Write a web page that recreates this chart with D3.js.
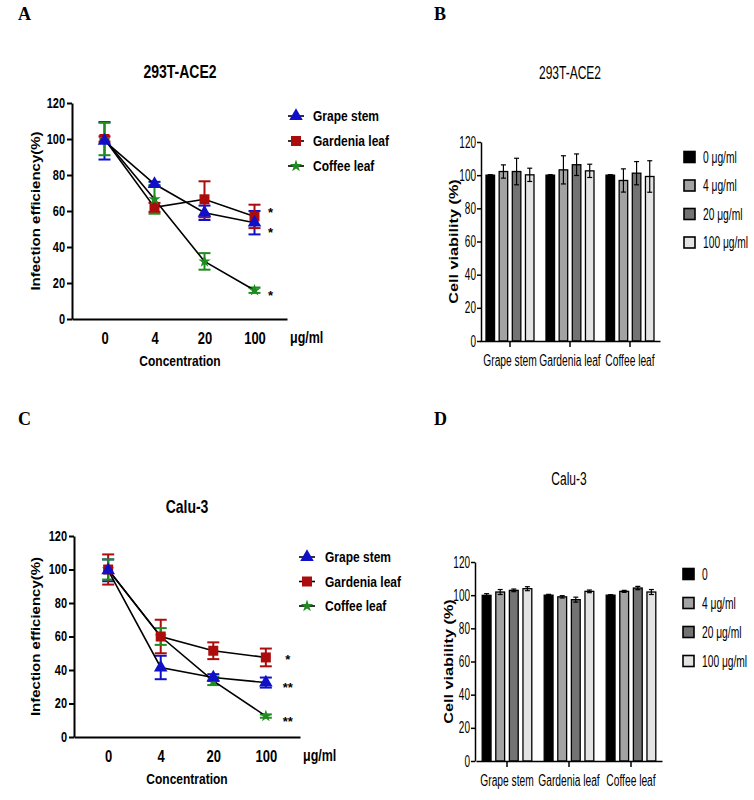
<!DOCTYPE html>
<html>
<head>
<meta charset="utf-8">
<script src="https://cdn.jsdelivr.net/npm/d3@7"></script>
<style>
body { margin: 0; background: #fff; }
svg { display: block; }
</style>
</head>
<body>
<svg id="fig" width="754" height="800"></svg>
<script>
// ---- data ----
const concentrations = ["0", "4", "20", "100"];
const extracts = ["Grape stem", "Gardenia leaf", "Coffee leaf"];
const yTicks = [0, 20, 40, 60, 80, 100, 120];

// A: 293T-ACE2, infection efficiency (%)
const aGrape = [99, 75, 59, 53.5];
const aGrapeErr = [10.4, 1.2, 4, 6.5];
const aGardenia = [100, 62, 66.5, 57];
const aGardeniaErr = [1.5, 2.5, 10, 6.5];
const aCoffee = [100, 66.5, 32, 16];
const aCoffeeErr = [9, 8, 4.6, 1.5];
const aStars = ["*", "*", "*"];
const aStarValues = [60.5, 49.5, 14.5];

// C: Calu-3, infection efficiency (%)
const cGrape = [99.5, 41.5, 35.5, 32.5];
const cGrapeErr = [6.5, 7, 2, 3];
const cGardenia = [100, 60, 51.5, 47.5];
const cGardeniaErr = [9, 10, 5, 5.3];
const cCoffee = [100, 60, 33.5, 12.5];
const cCoffeeErr = [6, 5, 2.5, 1];
const cStars = ["*", "**", "**"];
const cStarValues = [48, 31, 11];

// B: 293T-ACE2, cell viability (%), rows = extracts, columns = concentrations
const bViability = [
  [100, 102.2, 102.2, 100.2],
  [100, 103.2, 106.3, 102.6],
  [100, 96.8, 101.2, 99.2]
];
const bViabilityErr = [
  [0.3, 4, 8, 4],
  [0.3, 8.5, 6.5, 4],
  [0.3, 7, 7, 9.5]
];
const bLegend = ["0 \u03bcg/ml", "4 \u03bcg/ml", "20 \u03bcg/ml", "100 \u03bcg/ml"];

// D: Calu-3, cell viability (%)
const dViability = [
  [99.9, 101.9, 102.9, 103.9],
  [100, 99, 97.3, 102.3],
  [100, 102.3, 104.3, 101.9]
];
const dViabilityErr = [
  [1, 1.5, 0.8, 1.2],
  [0.5, 0.7, 1.5, 0.8],
  [0.3, 0.6, 1, 1.5]
];
const dLegend = ["0", "4 \u03bcg/ml", "20 \u03bcg/ml", "100 \u03bcg/ml"];

// ---- styles ----
const ARIAL = "'Liberation Sans', Arial, sans-serif";
const SERIF = "'Liberation Serif', 'Times New Roman', serif";
const barFills = ["#000000", "#a3a3a3", "#737373", "#e3e3e3"];
const S = 1.25;     // the source figure is stretched vertically, text included
const NARROW = 0.8; // horizontal squeeze for the narrow font of the bar panels

const svg = d3.select("#fig");

// turn x/y into a translate + stretch
function tall(sel, sx) {
  sx = sx || 1;
  sel.each(function () {
    const t = d3.select(this);
    const tx = +t.attr("x") || 0, ty = +t.attr("y") || 0;
    t.attr("x", null).attr("y", null)
      .attr("transform", "translate(" + tx + "," + ty + ") scale(" + sx + "," + S + ")");
  });
}

function label(g, x, y, str, size, opts) {
  opts = opts || {};
  const t = g.append("text")
    .attr("x", x).attr("y", y)
    .attr("font-family", ARIAL)
    .attr("font-size", size)
    .attr("font-weight", opts.weight || "bold")
    .attr("text-anchor", opts.anchor || "start")
    .text(str);
  if (opts.dy) t.attr("dy", opts.dy);
  tall(t, opts.sx);
  return t;
}

function yLabel(g, x, y, str, size) {
  g.append("text")
    .attr("transform", "translate(" + x + "," + y + ") scale(1," + S + ") rotate(-90)")
    .attr("text-anchor", "middle")
    .attr("font-family", ARIAL)
    .attr("font-weight", "bold")
    .attr("font-size", size)
    .text(str);
}

function styleAxis(ax, width, size, weight, sx) {
  ax.attr("font-size", null).attr("font-family", null);
  ax.select(".domain").attr("stroke-width", width);
  ax.selectAll(".tick line").attr("stroke-width", width);
  ax.selectAll("text")
    .attr("font-family", ARIAL)
    .attr("font-size", size)
    .attr("font-weight", weight)
    .attr("fill", "#000");
  tall(ax.selectAll("text"), sx);
}

function panelLetter(x, y, str) {
  svg.append("text")
    .attr("x", x).attr("y", y)
    .attr("font-family", SERIF)
    .attr("font-weight", "bold")
    .attr("font-size", 18)
    .text(str);
}

/**
 * Line chart with error bars (panels A and C)
 */
function drawLinePanel(cfg) {
  const g = svg.append("g");
  const x = d3.scalePoint().domain(concentrations).range([cfg.left, cfg.right]).padding(0.65);
  const y = d3.scaleLinear().domain([0, 120]).range([cfg.bottom, cfg.top]);

  const yAxis = g.append("g")
    .attr("transform", "translate(" + cfg.left + ",0)")
    .call(d3.axisLeft(y).tickValues(yTicks).tickSize(5).tickPadding(2).tickSizeOuter(0));
  styleAxis(yAxis, 2, 11, "bold");

  const xAxis = g.append("g")
    .attr("transform", "translate(0," + cfg.bottom + ")")
    .call(d3.axisBottom(x).tickSize(0).tickPadding(13).tickSizeOuter(0));
  styleAxis(xAxis, 2, 13, "bold");

  label(g, cfg.right + 3, cfg.bottom + 23.5, "\u03bcg/ml", 12.5);
  label(g, cfg.titleX, cfg.bottom + 47, "Concentration", 12, { anchor: "middle" });
  label(g, cfg.titleX, cfg.titleY, cfg.title, 14, { anchor: "middle" });
  yLabel(g, cfg.ylabelX, (cfg.top + cfg.bottom) / 2, "Infection efficiency(%)", 12);
  panelLetter(cfg.letterX, cfg.letterY, cfg.letter);

  const line = d3.line()
    .x((d, i) => x(concentrations[i]))
    .y(d => y(d));

  // error bars
  cfg.series.forEach(s => {
    const eb = g.append("g").attr("stroke", s.color).attr("stroke-width", 2);
    s.values.forEach((v, i) => {
      const cx = x(concentrations[i]);
      const lo = y(v - s.err[i]), hi = y(v + s.err[i]);
      eb.append("line").attr("x1", cx).attr("x2", cx).attr("y1", lo).attr("y2", hi);
      eb.append("line").attr("x1", cx - 6).attr("x2", cx + 6).attr("y1", lo).attr("y2", lo);
      eb.append("line").attr("x1", cx - 6).attr("x2", cx + 6).attr("y1", hi).attr("y2", hi);
    });
  });

  cfg.series.forEach(s => {
    g.append("path")
      .datum(s.values)
      .attr("fill", "none")
      .attr("stroke", "#000")
      .attr("stroke-width", 1.6)
      .attr("d", line);
  });

  cfg.drawOrder.forEach(k => {
    const s = cfg.series[k];
    g.append("g").selectAll("path")
      .data(s.values)
      .join("path")
      .attr("transform", (d, i) => "translate(" + x(concentrations[i]) + "," + y(d) + ")")
      .attr("d", d3.symbol().type(s.symbol).size(s.size))
      .attr("fill", s.color);
  });

  // significance marks
  g.append("g").selectAll("text")
    .data(cfg.stars)
    .join("text")
    .attr("x", x("100") + cfg.starOffset)
    .attr("y", (d, i) => y(cfg.starValues[i]))
    .attr("dy", "0.55em")
    .attr("text-anchor", "middle")
    .attr("font-family", ARIAL)
    .attr("font-weight", "bold")
    .attr("font-size", 13)
    .text(d => d);

  // legend
  const lg = g.append("g");
  cfg.series.forEach((s, i) => {
    const ly = cfg.legendY + i * cfg.legendGap;
    lg.append("line")
      .attr("x1", cfg.legendX - 8).attr("x2", cfg.legendX + 8)
      .attr("y1", ly).attr("y2", ly)
      .attr("stroke", "#000").attr("stroke-width", 1.6);
    lg.append("path")
      .attr("transform", "translate(" + cfg.legendX + "," + ly + ")")
      .attr("d", d3.symbol().type(s.symbol).size(s.size))
      .attr("fill", s.color);
    label(lg, cfg.textX, ly, s.name, 12, { dy: "0.36em" });
  });
}

/**
 * Grouped bar chart with error bars (panels B and D)
 */
function drawBarPanel(cfg) {
  const g = svg.append("g");
  const x0 = d3.scaleBand().domain(extracts).range(cfg.range).paddingInner(0.2).paddingOuter(0.1);
  const x1 = d3.scaleBand().domain(concentrations).range([0, x0.bandwidth()]).paddingInner(0.35);
  const y = d3.scaleLinear().domain([0, 120]).range([cfg.bottom, cfg.top]);

  extracts.forEach((ext, r) => {
    const grp = g.append("g").attr("transform", "translate(" + x0(ext) + ",0)");
    grp.selectAll("rect")
      .data(cfg.values[r])
      .join("rect")
      .attr("x", (d, i) => x1(concentrations[i]))
      .attr("y", d => y(d))
      .attr("width", x1.bandwidth())
      .attr("height", d => y(0) - y(d))
      .attr("fill", (d, i) => barFills[i])
      .attr("stroke", "#000")
      .attr("stroke-width", 1.3);
    const eb = grp.append("g").attr("stroke", "#000").attr("stroke-width", 1.2);
    cfg.values[r].forEach((v, i) => {
      const cx = x1(concentrations[i]) + x1.bandwidth() / 2;
      const e = cfg.err[r][i];
      const lo = y(v - e), hi = y(v + e);
      eb.append("line").attr("x1", cx).attr("x2", cx).attr("y1", lo).attr("y2", hi);
      eb.append("line").attr("x1", cx - 2.5).attr("x2", cx + 2.5).attr("y1", lo).attr("y2", lo);
      eb.append("line").attr("x1", cx - 2.5).attr("x2", cx + 2.5).attr("y1", hi).attr("y2", hi);
    });
  });

  const yAxis = g.append("g")
    .attr("transform", "translate(" + cfg.left + ",0)")
    .call(d3.axisLeft(y).tickValues(yTicks).tickSize(4).tickPadding(1).tickSizeOuter(0));
  styleAxis(yAxis, 1.5, 12.5, "normal", NARROW);

  const xAxis = g.append("g")
    .attr("transform", "translate(0," + cfg.bottom + ")")
    .call(d3.axisBottom(x0).tickSize(6).tickPadding(8).tickSizeOuter(0));
  styleAxis(xAxis, 1.5, 12.8, "normal", NARROW);

  label(g, cfg.titleX, cfg.titleY, cfg.title, 15, { anchor: "middle", weight: "normal", sx: NARROW });
  yLabel(g, cfg.ylabelX, (cfg.top + cfg.bottom) / 2, "Cell viability (%)", 13);
  panelLetter(cfg.letterX, cfg.letterY, cfg.letter);

  const lg = g.append("g");
  cfg.legend.forEach((t, i) => {
    const ly = cfg.legendY + i * cfg.legendGap;
    lg.append("rect")
      .attr("x", cfg.legendX).attr("y", ly - 5.5)
      .attr("width", 11).attr("height", 11)
      .attr("fill", barFills[i])
      .attr("stroke", "#000").attr("stroke-width", 1.6);
    label(lg, cfg.legendX + 19, ly, t, 12.8, { dy: "0.36em", weight: "normal", sx: NARROW });
  });
}

const lineStyle = [
  { name: "Grape stem", color: "#1010c8", symbol: d3.symbolTriangle, size: 80 },
  { name: "Gardenia leaf", color: "#ac0c0c", symbol: d3.symbolSquare, size: 100 },
  { name: "Coffee leaf", color: "#1e8c1e", symbol: d3.symbolStar, size: 48 }
];

drawLinePanel({
  left: 72, right: 287, top: 103, bottom: 319,
  title: "293T-ACE2", titleX: 180, titleY: 78,
  letter: "A", letterX: 18, letterY: 20, ylabelX: 40,
  series: [
    Object.assign({ values: aGrape, err: aGrapeErr }, lineStyle[0]),
    Object.assign({ values: aGardenia, err: aGardeniaErr }, lineStyle[1]),
    Object.assign({ values: aCoffee, err: aCoffeeErr }, lineStyle[2])
  ],
  drawOrder: [1, 2, 0],
  stars: aStars, starValues: aStarValues, starOffset: 16,
  legendX: 296, textX: 313, legendY: 116, legendGap: 25
});

drawLinePanel({
  left: 74, right: 300, top: 536, bottom: 737,
  title: "Calu-3", titleX: 187, titleY: 513,
  letter: "C", letterX: 18, letterY: 425, ylabelX: 40,
  series: [
    Object.assign({ values: cGrape, err: cGrapeErr }, lineStyle[0]),
    Object.assign({ values: cGardenia, err: cGardeniaErr }, lineStyle[1]),
    Object.assign({ values: cCoffee, err: cCoffeeErr }, lineStyle[2])
  ],
  drawOrder: [2, 1, 0],
  stars: cStars, starValues: cStarValues, starOffset: 22,
  legendX: 307, textX: 325, legendY: 557, legendGap: 24.5
});

drawBarPanel({
  left: 481, range: [480, 660], top: 142, bottom: 341,
  values: bViability, err: bViabilityErr, legend: bLegend,
  title: "293T-ACE2", titleX: 570, titleY: 79,
  letter: "B", letterX: 434, letterY: 20, ylabelX: 458,
  legendX: 684, legendY: 157, legendGap: 28.5
});

drawBarPanel({
  left: 475, range: [476, 662], top: 562, bottom: 761,
  values: dViability, err: dViabilityErr, legend: dLegend,
  title: "Calu-3", titleX: 569, titleY: 485,
  letter: "D", letterX: 434, letterY: 425, ylabelX: 453,
  legendX: 683, legendY: 574, legendGap: 29
});
</script>
</body>
</html>
